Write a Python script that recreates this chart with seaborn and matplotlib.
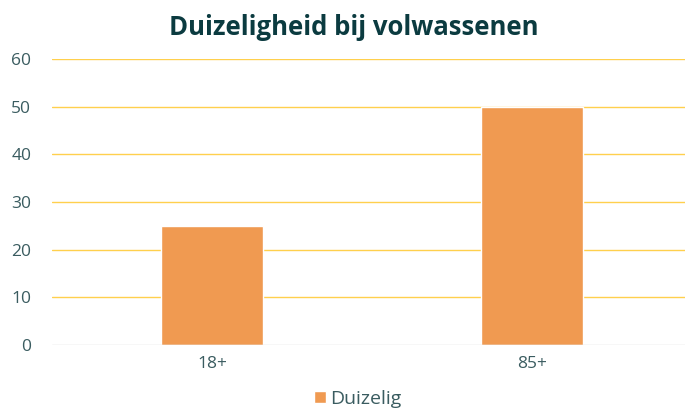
import pandas as pd
import seaborn as sns
import matplotlib.pyplot as plt

categories = ["18+", "85+"]
duizelig = [25, 50]

df = pd.DataFrame({"leeftijd": categories, "waarde": duizelig, "reeks": "Duizelig"})

sns.set_theme(style="white")
plt.rcParams["font.family"] = ["Open Sans", "DejaVu Sans"]

fig = plt.figure(figsize=(6.85, 4.15), dpi=100)
ax = fig.add_axes([0.076, 0.169, 0.934, 0.689])

sns.barplot(
    data=df, x="leeftijd", y="waarde", hue="reeks",
    palette=["#F09A51"], width=0.32, saturation=1, ax=ax, zorder=3,
)

ax.set_ylim(0, 60)
ax.set_xlim(-0.5, 1.5)
ax.set_yticks(range(0, 61, 10))
for y in range(10, 61, 10):
    ax.axhline(y, color="#FFD04D", lw=1, zorder=1)
ax.axhline(0, color="#D9D9D9", lw=1, zorder=4)

for s in ax.spines.values():
    s.set_visible(False)
ax.tick_params(axis="both", length=0, labelsize=12.5, labelcolor="#3A5C60", pad=8)
ax.tick_params(axis="y", pad=15)
ax.set_xlabel("")
ax.set_ylabel("")

ax.set_title("Duizeligheid bij volwassenen", fontsize=18.5, fontweight="bold",
             color="#0B3B40", pad=17, x=0.472)

ax.legend(loc="upper center", bbox_to_anchor=(0.478, -0.095), frameon=False,
          fontsize=14, labelcolor="#3A5C60", handlelength=0.6, handleheight=0.6,
          handletextpad=0.25)

fig.savefig("out.png", dpi=100)
